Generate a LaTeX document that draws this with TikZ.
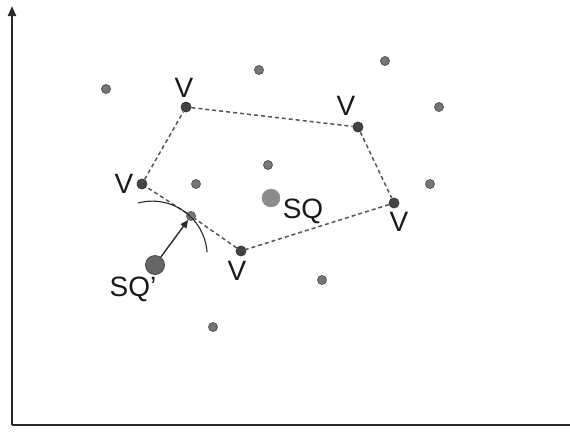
\documentclass[tikz,border=0pt]{standalone}
\usepackage{fontspec}
\setmainfont{Liberation Sans}
\usetikzlibrary{arrows.meta}
\definecolor{axisc}{HTML}{2A2A2A}
\definecolor{dotfill}{HTML}{777777}
\definecolor{dotline}{HTML}{555555}
\definecolor{vfill}{HTML}{444444}
\tikzset{
  pt/.style={circle, fill=dotfill, draw=dotline, line width=0.8bp, minimum size=9bp, inner sep=0pt},
  vx/.style={circle, fill=vfill, draw=vfill!80!black, line width=0.8bp, minimum size=10bp, inner sep=0pt},
  sq/.style={circle, fill=dotfill!85!white, draw=dotfill!85!white, minimum size=18bp, inner sep=0pt},
  sqp/.style={circle, fill=dotfill!85!black, draw=vfill, line width=0.8bp, minimum size=19bp, inner sep=0pt},
  lbl/.style={font=\fontsize{28bp}{30bp}\selectfont, text=black!90, inner sep=0pt},
  edge/.style={dashed, dash pattern=on 4bp off 3bp, draw=dotline, line width=1.5bp},
  axis/.style={draw=axisc, line width=2.2bp}
}
\begin{document}
\begin{tikzpicture}[x=1bp,y=-1bp]
\useasboundingbox (0,0) rectangle (570,431);
% axes
\coordinate (o) at (12,425);
\coordinate (ytop) at (12,6);
\coordinate (xend) at (570,425);
\draw[axis, -{Triangle[length=10bp,width=8bp]}] (o) -- (ytop);
\draw[axis] (o) -- (xend);
% gray points
\node[pt] (p1) at (106,89) {};
\node[pt] (p2) at (259,70) {};
\node[pt] (p3) at (385,61) {};
\node[pt] (p4) at (439,107) {};
\node[pt] (p5) at (268,165) {};
\node[pt] (p6) at (196,184) {};
\node[pt] (p7) at (430,184) {};
\node[pt] (p8) at (322,280) {};
\node[pt] (p9) at (213,327) {};
% vertices
\node[vx] (v1) at (186,107) {};
\node[vx] (v2) at (358,127) {};
\node[vx] (v3) at (394,203) {};
\node[vx] (v4) at (241,251) {};
\node[vx] (v5) at (142,184) {};
\node[pt] (h) at (191,216) {};
% query points
\node[sq] (sq) at (271,198) {};
\node[sqp] (sqp) at (155,265) {};
% polygon
\draw[edge] (v1) -- (v2) -- (v3) -- (v4) -- (h) -- (v5) -- (v1);
% arc
\draw[draw=axisc, line width=1.1bp] (138,203) arc[start angle=255, end angle=356, radius=55];
% arrow
\draw[draw=axisc, line width=1.4bp, -{Triangle[length=8bp,width=7bp]}] (sqp) -- (h);
% labels
\node[lbl] (l1) at (184,88) {V};
\node[lbl] (l2) at (346,106) {V};
\node[lbl] (l3) at (124,184) {V};
\node[lbl] (l4) at (399,222) {V};
\node[lbl] (l5) at (237,271) {V};
\node[lbl] (lsq) at (303,211) {SQ};
\node[lbl] (lsqp) at (133,289) {SQ'};
\end{tikzpicture}
\end{document}
